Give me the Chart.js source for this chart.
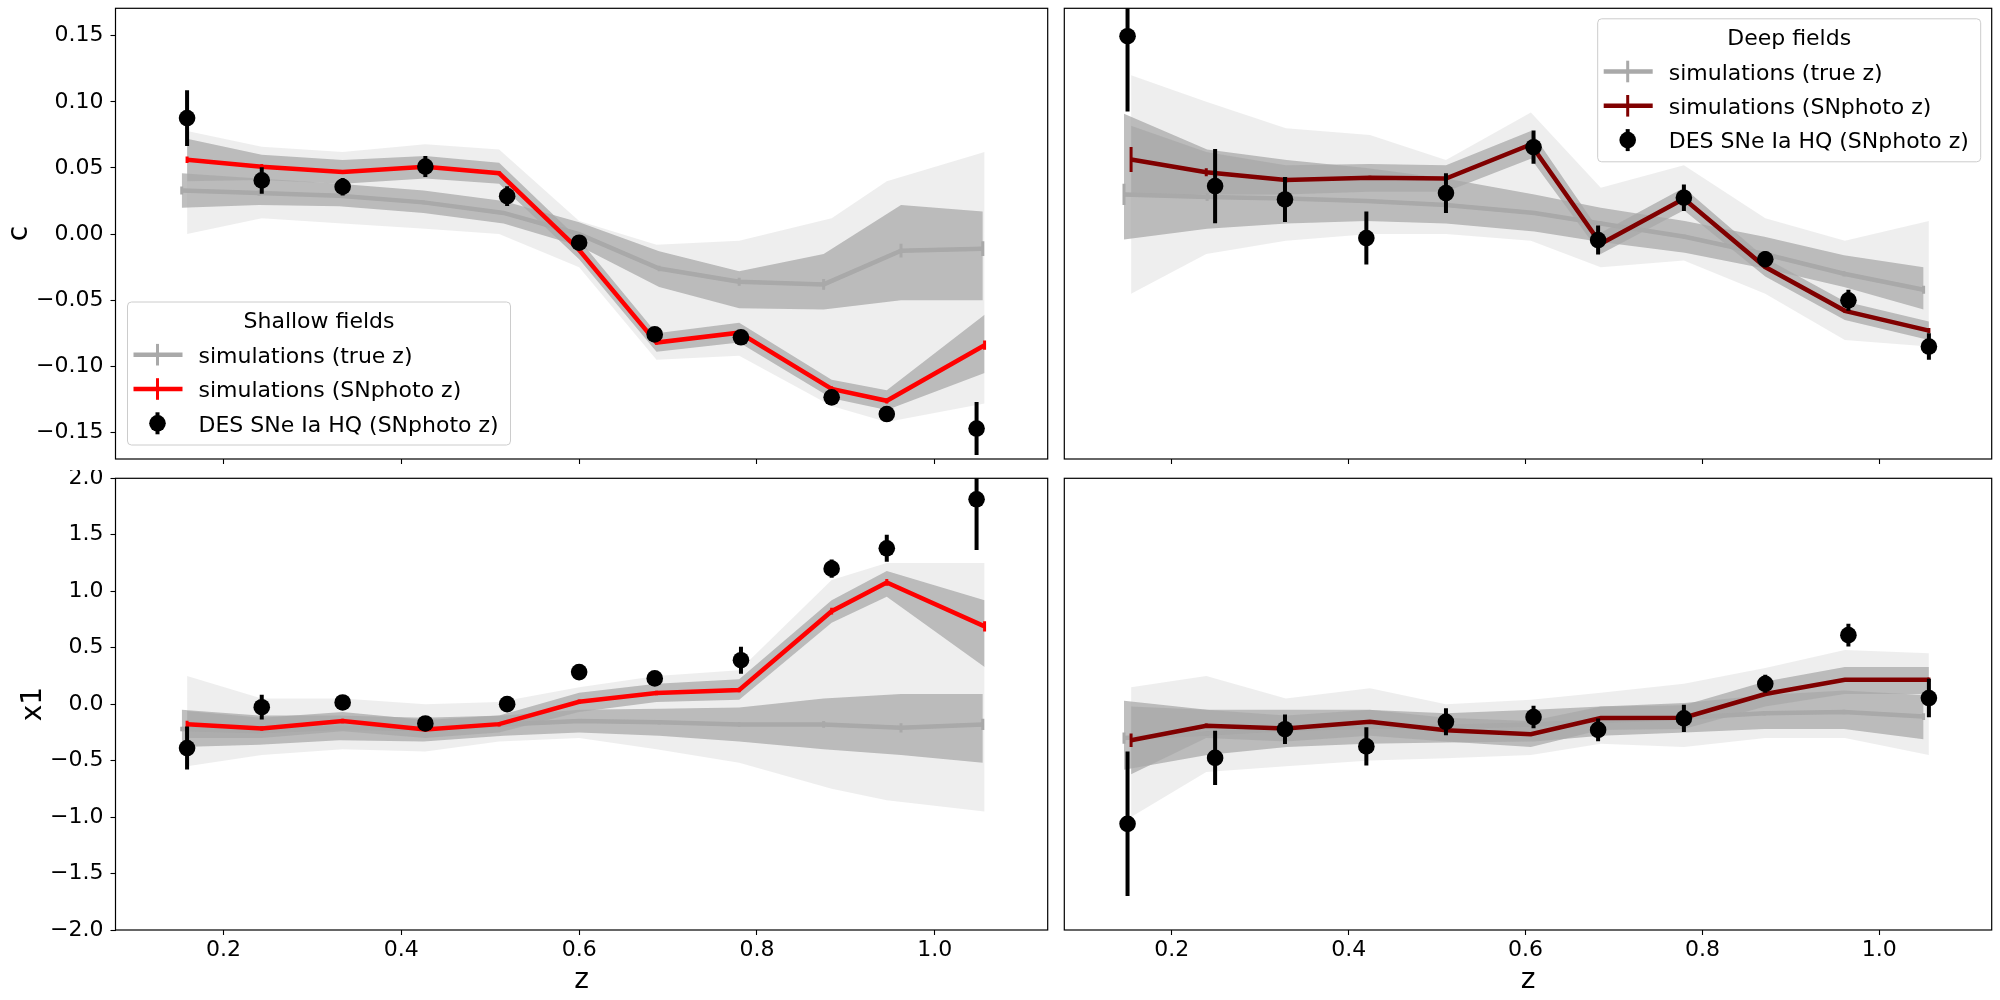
<!DOCTYPE html>
<html>
<head>
<meta charset="utf-8">
<script src="https://cdn.jsdelivr.net/npm/chart.js@4.4.1/dist/chart.umd.min.js"></script>
<style>
  html, body { margin: 0; padding: 0; background: #fff; }
  #fig { position: relative; width: 2000px; height: 1000px; }
  canvas { position: absolute; }
</style>
</head>
<body>
<div id="fig">
  <canvas id="shallow-c" width="1056" height="470" style="left:0px;top:0px"></canvas>
  <canvas id="deep-c" width="944" height="470" style="left:1056px;top:0px"></canvas>
  <canvas id="shallow-x1" width="1056" height="530" style="left:0px;top:470px"></canvas>
  <canvas id="deep-x1" width="944" height="530" style="left:1056px;top:470px"></canvas>
</div>
<script>
// axes
const zTicks = [0.2, 0.4, 0.6, 0.8, 1.0];
const zTickLabels = ['0.2', '0.4', '0.6', '0.8', '1.0'];
const cTicks = [-0.15, -0.10, -0.05, 0.00, 0.05, 0.10, 0.15];
const cTickLabels = ['\u22120.15', '\u22120.10', '\u22120.05', '0.00', '0.05', '0.10', '0.15'];
const x1Ticks = [-2.0, -1.5, -1.0, -0.5, 0.0, 0.5, 1.0, 1.5, 2.0];
const x1TickLabels = ['\u22122.0', '\u22121.5', '\u22121.0', '\u22120.5', '0.0', '0.5', '1.0', '1.5', '2.0'];
const zRange = [0.0785, 1.127];
const cRange = [-0.170, 0.1707];
const x1Range = [-2.0, 2.0];

const legendLabels = ['simulations (true z)', 'simulations (SNphoto z)', 'DES SNe Ia HQ (SNphoto z)'];
const fieldTitles = ['Shallow fields', 'Deep fields'];

// ---- shallow fields ----
const shallowZ      = [0.159, 0.243, 0.334, 0.427, 0.519, 0.600, 0.685, 0.782, 0.884, 0.946, 1.047];
const shallowPhotoZ = [0.159, 0.243, 0.334, 0.427, 0.510, 0.600, 0.687, 0.780, 0.884, 0.946, 1.056];
const shallowTrueZ  = [0.153, 0.240, 0.330, 0.425, 0.515, 0.600, 0.690, 0.780, 0.875, 0.962, 1.054];

const shallowC         = [0.0877, 0.0406, 0.0358, 0.0511, 0.0287, -0.0065, -0.0758, -0.0780, -0.1234, -0.1360, -0.1470];
const shallowCErr      = [0.021, 0.010, 0.0067, 0.008, 0.0075, 0.004, 0.003, 0.005, 0.003, 0.003, 0.020];
const shallowPhotoC    = [0.0562, 0.0510, 0.0470, 0.0510, 0.0460, -0.0120, -0.0820, -0.0745, -0.1170, -0.1260, -0.0840];
const shallowPhotoCErr = [0.0025, 0.002, 0.0015, 0.0015, 0.0015, 0.0015, 0.0015, 0.002, 0.002, 0.002, 0.0035];
const shallowPhotoCLo  = [0.040, 0.041, 0.038, 0.042, 0.038, -0.019, -0.089, -0.082, -0.124, -0.133, -0.105];
const shallowPhotoCHi  = [0.072, 0.060, 0.056, 0.059, 0.054, -0.004, -0.075, -0.067, -0.110, -0.118, -0.061];
const shallowTrueC     = [0.033, 0.031, 0.029, 0.024, 0.016, 0.000, -0.026, -0.036, -0.038, -0.0125, -0.011];
const shallowTrueCErr  = [0.003, 0.002, 0.0015, 0.0015, 0.0015, 0.0015, 0.002, 0.003, 0.004, 0.0052, 0.0056];
const shallowTrueCLo   = [0.020, 0.022, 0.021, 0.016, 0.008, -0.009, -0.040, -0.056, -0.057, -0.050, -0.050];
const shallowTrueCHi   = [0.046, 0.042, 0.038, 0.033, 0.025, 0.009, -0.013, -0.028, -0.015, 0.022, 0.017];
const shallowEnvCLo    = [0.000, 0.012, 0.008, 0.004, 0.000, -0.025, -0.095, -0.092, -0.130, -0.142, -0.128];
const shallowEnvCHi    = [0.078, 0.066, 0.062, 0.068, 0.064, 0.010, -0.008, -0.005, 0.012, 0.040, 0.062];

const shallowX1         = [-0.389, -0.027, 0.015, -0.171, 0.000, 0.284, 0.228, 0.389, 1.200, 1.380, 1.814];
const shallowX1Err      = [0.19, 0.11, 0.03, 0.04, 0.05, 0.03, 0.06, 0.12, 0.08, 0.12, 0.45];
const shallowPhotoX1    = [-0.177, -0.216, -0.150, -0.225, -0.177, 0.021, 0.099, 0.126, 0.823, 1.078, 0.689];
const shallowPhotoX1Err = [0.03, 0.02, 0.02, 0.02, 0.02, 0.02, 0.02, 0.02, 0.03, 0.03, 0.045];
const shallowPhotoX1Lo  = [-0.30, -0.30, -0.24, -0.30, -0.25, -0.07, 0.02, 0.04, 0.72, 0.95, 0.33];
const shallowPhotoX1Hi  = [-0.06, -0.12, -0.07, -0.14, -0.10, 0.10, 0.18, 0.22, 0.92, 1.18, 0.92];
const shallowTrueX1     = [-0.22, -0.24, -0.21, -0.22, -0.18, -0.15, -0.16, -0.18, -0.18, -0.21, -0.18];
const shallowTrueX1Err  = [0.02, 0.015, 0.015, 0.015, 0.015, 0.015, 0.02, 0.02, 0.03, 0.04, 0.05];
const shallowTrueX1Lo   = [-0.38, -0.36, -0.32, -0.33, -0.28, -0.25, -0.28, -0.33, -0.40, -0.45, -0.52];
const shallowTrueX1Hi   = [-0.05, -0.10, -0.10, -0.12, -0.10, -0.05, -0.04, -0.03, 0.05, 0.09, 0.09];
const shallowEnvX1Lo    = [-0.55, -0.45, -0.40, -0.42, -0.33, -0.30, -0.40, -0.52, -0.75, -0.85, -0.95];
const shallowEnvX1Hi    = [0.25, 0.05, 0.05, 0.00, 0.02, 0.15, 0.25, 0.30, 1.10, 1.25, 1.25];

// ---- deep fields ----
const deepZ      = [0.150, 0.249, 0.328, 0.420, 0.510, 0.609, 0.682, 0.779, 0.871, 0.965, 1.056];
const deepPhotoZ = [0.154, 0.239, 0.329, 0.424, 0.510, 0.606, 0.685, 0.779, 0.871, 0.961, 1.056];
const deepTrueZ  = [0.146, 0.240, 0.330, 0.420, 0.510, 0.610, 0.685, 0.780, 0.870, 0.960, 1.050];

const deepC         = [0.1496, 0.0363, 0.0262, -0.0030, 0.0310, 0.0657, -0.0045, 0.0275, -0.0190, -0.0500, -0.0850];
const deepCErr      = [0.057, 0.028, 0.017, 0.020, 0.015, 0.0126, 0.011, 0.010, 0.006, 0.008, 0.010];
const deepPhotoC    = [0.0564, 0.0468, 0.0410, 0.0426, 0.0420, 0.0678, -0.0073, 0.0267, -0.0249, -0.0580, -0.0730];
const deepPhotoCErr = [0.0094, 0.003, 0.002, 0.0015, 0.0015, 0.0015, 0.0015, 0.0015, 0.0015, 0.0015, 0.002];
const deepPhotoCLo  = [0.028, 0.030, 0.030, 0.032, 0.032, 0.057, -0.015, 0.018, -0.032, -0.065, -0.080];
const deepPhotoCHi  = [0.082, 0.062, 0.052, 0.053, 0.052, 0.078, 0.001, 0.035, -0.018, -0.051, -0.066];
const deepTrueC     = [0.030, 0.028, 0.027, 0.025, 0.022, 0.016, 0.008, -0.002, -0.015, -0.030, -0.042];
const deepTrueCErr  = [0.008, 0.003, 0.002, 0.0015, 0.0015, 0.0015, 0.0015, 0.0015, 0.002, 0.002, 0.003];
const deepTrueCLo   = [-0.004, 0.004, 0.008, 0.010, 0.008, 0.002, -0.006, -0.014, -0.026, -0.040, -0.057];
const deepTrueCHi   = [0.091, 0.064, 0.056, 0.050, 0.042, 0.030, 0.020, 0.010, -0.002, -0.016, -0.025];
const deepEnvCLo    = [-0.045, -0.015, -0.005, 0.000, 0.000, -0.005, -0.025, -0.020, -0.045, -0.080, -0.085];
const deepEnvCHi    = [0.120, 0.100, 0.080, 0.075, 0.056, 0.092, 0.035, 0.052, 0.012, -0.005, 0.010];

const deepX1         = [-1.06, -0.476, -0.222, -0.374, -0.156, -0.114, -0.228, -0.126, 0.180, 0.611, 0.054];
const deepX1Err      = [0.64, 0.24, 0.13, 0.17, 0.12, 0.10, 0.10, 0.12, 0.08, 0.10, 0.17];
const deepPhotoX1    = [-0.320, -0.192, -0.216, -0.156, -0.231, -0.266, -0.123, -0.120, 0.090, 0.216, 0.216];
const deepPhotoX1Err = [0.06, 0.02, 0.015, 0.015, 0.015, 0.015, 0.015, 0.015, 0.015, 0.015, 0.02];
const deepPhotoX1Lo  = [-0.62, -0.30, -0.33, -0.28, -0.33, -0.38, -0.23, -0.22, -0.02, 0.09, 0.09];
const deepPhotoX1Hi  = [-0.02, -0.05, -0.10, -0.05, -0.12, -0.15, -0.02, -0.01, 0.20, 0.33, 0.33];
const deepTrueX1     = [-0.30, -0.26, -0.22, -0.20, -0.20, -0.18, -0.15, -0.12, -0.08, -0.07, -0.11];
const deepTrueX1Err  = [0.05, 0.02, 0.015, 0.015, 0.015, 0.015, 0.015, 0.015, 0.02, 0.02, 0.03];
const deepTrueX1Lo   = [-0.58, -0.45, -0.38, -0.35, -0.34, -0.33, -0.28, -0.25, -0.22, -0.22, -0.31];
const deepTrueX1Hi   = [0.03, -0.05, -0.05, -0.05, -0.08, -0.05, -0.02, 0.01, 0.08, 0.12, 0.08];
const deepEnvX1Lo    = [-1.00, -0.60, -0.55, -0.50, -0.48, -0.45, -0.35, -0.38, -0.30, -0.30, -0.45];
const deepEnvX1Hi    = [0.15, 0.25, 0.05, 0.14, 0.00, 0.04, 0.10, 0.18, 0.32, 0.48, 0.45];

const simGrey = '#a9a9a9';
const bandFill = 'rgba(169,169,169,0.75)';
const envFill = 'rgba(205,205,205,0.35)';
const shallowRed = '#ff0000';
const deepRed = '#800000';

Chart.defaults.font.family = "'DejaVu Sans', sans-serif";
Chart.defaults.color = '#000';

const pts = (xs, ys) => xs.map((x, i) => ({ x: x, y: ys[i] }));

// vertical error bars, drawn under each dataset
const errorBarPlugin = {
  id: 'errorBars',
  beforeDatasetDraw(chart, args) {
    const ds = chart.data.datasets[args.index];
    if (!ds.errs) return;
    const ctx = chart.ctx, a = chart.chartArea, ys = chart.scales.y;
    ctx.save();
    ctx.beginPath();
    ctx.rect(a.left, a.top, a.right - a.left, a.bottom - a.top);
    ctx.clip();
    ctx.strokeStyle = ds.errColor;
    ctx.lineWidth = ds.errWidth;
    args.meta.data.forEach((el, i) => {
      const v = ds.data[i].y, e = ds.errs[i];
      ctx.beginPath();
      ctx.moveTo(el.x, ys.getPixelForValue(v - e));
      ctx.lineTo(el.x, ys.getPixelForValue(v + e));
      ctx.stroke();
    });
    ctx.restore();
  }
};

// axes frame + legend box
const frameLegendPlugin = {
  id: 'fieldLegend',
  afterDraw(chart, args, opts) {
    const ctx = chart.ctx, a = chart.chartArea;
    ctx.save();
    ctx.strokeStyle = '#000';
    ctx.lineWidth = 1.2;
    ctx.strokeRect(a.left, a.top, a.right - a.left, a.bottom - a.top);
    ctx.restore();
    if (!opts.title) return;

    const w = 383, h = 143;
    const x0 = opts.corner === 'bl' ? a.left + 12 : a.right - 11 - w;
    const y0 = opts.corner === 'bl' ? a.bottom - 14 - h : a.top + 10.5;
    ctx.save();
    ctx.beginPath();
    ctx.roundRect(x0, y0, w, h, 4);
    ctx.fillStyle = 'rgba(255,255,255,0.8)';
    ctx.fill();
    ctx.strokeStyle = '#cccccc';
    ctx.lineWidth = 1;
    ctx.stroke();

    ctx.font = "22px 'DejaVu Sans'";
    ctx.fillStyle = '#000';
    ctx.textBaseline = 'alphabetic';
    ctx.textAlign = 'center';
    ctx.fillText(opts.title, x0 + w / 2, y0 + 26);

    const colors = [simGrey, opts.photoColor];
    ctx.textAlign = 'left';
    legendLabels.forEach((label, i) => {
      const base = y0 + 61 + i * 34.3;
      const my = base - 8.3;
      if (i < 2) {
        ctx.strokeStyle = colors[i];
        ctx.lineWidth = 4.5;
        ctx.beginPath(); ctx.moveTo(x0 + 6, my); ctx.lineTo(x0 + 55, my); ctx.stroke();
        ctx.lineWidth = 3;
        ctx.beginPath(); ctx.moveTo(x0 + 30, my - 10.8); ctx.lineTo(x0 + 30, my + 10.8); ctx.stroke();
      } else {
        ctx.strokeStyle = '#000';
        ctx.lineWidth = 4;
        ctx.beginPath(); ctx.moveTo(x0 + 30, my - 11); ctx.lineTo(x0 + 30, my + 11); ctx.stroke();
        ctx.fillStyle = '#000';
        ctx.beginPath(); ctx.arc(x0 + 30, my, 8.3, 0, Math.PI * 2); ctx.fill();
      }
      ctx.fillStyle = '#000';
      ctx.fillText(label, x0 + 71, base);
    });
    ctx.restore();
  }
};

function fieldDatasets(f) {
  const band = (zs, ys, fill, color) => ({
    data: pts(zs, ys), borderColor: 'rgba(0,0,0,0)', borderWidth: 1,
    pointRadius: 0, fill: fill, backgroundColor: color
  });
  return [
    { label: legendLabels[2], data: pts(f.dataZ, f.data), showLine: false,
      pointRadius: 8.3, pointBackgroundColor: '#000', pointBorderWidth: 0,
      errs: f.dataErr, errColor: '#000', errWidth: 4 },
    { label: legendLabels[1], data: pts(f.photoZ, f.photo), borderColor: f.photoColor,
      borderWidth: 4.5, pointRadius: 0, errs: f.photoErr, errColor: f.photoColor, errWidth: 3 },
    { label: legendLabels[0], data: pts(f.trueZ, f.tru), borderColor: simGrey,
      borderWidth: 4.5, pointRadius: 0, errs: f.trueErr, errColor: simGrey, errWidth: 3 },
    band(f.photoZ, f.photoHi, '+1', bandFill),
    band(f.photoZ, f.photoLo, false, bandFill),
    band(f.trueZ, f.trueHi, '+1', bandFill),
    band(f.trueZ, f.trueLo, false, bandFill),
    band(f.photoZ, f.envHi, '+1', envFill),
    band(f.photoZ, f.envLo, false, envFill)
  ];
}

function axis(o) {
  return {
    type: 'linear',
    min: o.range[0],
    max: o.range[1],
    afterBuildTicks: s => { s.ticks = o.ticks.map(v => ({ value: v })); },
    afterFit: s => {
      if (o.horizontal) s.height = o.size; else s.width = o.size;
      // labels may overhang the plot box, as in matplotlib
      s.paddingTop = 0; s.paddingBottom = 0; s.paddingLeft = 0; s.paddingRight = 0;
    },
    border: { display: false },
    grid: { display: o.marks, drawOnChartArea: false, drawTicks: true, tickLength: 5,
            tickColor: '#000', tickWidth: 1.1 },
    ticks: { display: o.labels, autoSkip: false, maxRotation: 0, minRotation: 0, color: '#000',
             padding: o.horizontal ? 2 : 7, font: { size: 22 },
             callback: (v, i) => o.tickLabels[i] },
    title: o.title
      ? { display: true, text: o.title, color: '#000', font: { size: 28 }, padding: o.titlePad }
      : { display: false }
  };
}

function makePanel(id, p) {
  new Chart(document.getElementById(id), {
    type: 'line',
    data: { datasets: fieldDatasets(p.field) },
    options: {
      responsive: false,
      animation: false,
      devicePixelRatio: 1,
      events: [],
      layout: { padding: p.pad },
      plugins: {
        legend: { display: false },
        tooltip: { enabled: false },
        fieldLegend: p.legend || {}
      },
      scales: {
        x: axis({ horizontal: true, range: zRange, ticks: zTicks, tickLabels: zTickLabels,
                  size: p.xh, marks: true, labels: p.xlabels,
                  title: p.xlabels ? 'z' : null, titlePad: { top: 0, bottom: 2 } }),
        y: axis({ horizontal: false, range: p.yRange, ticks: p.yTicks, tickLabels: p.yTickLabels,
                  size: p.yw, marks: p.ylabels, labels: p.ylabels,
                  title: p.ytitle, titlePad: p.ytitlePad })
      }
    },
    plugins: [errorBarPlugin, frameLegendPlugin]
  });
}

makePanel('shallow-c', {
  field: { dataZ: shallowZ, data: shallowC, dataErr: shallowCErr,
           photoZ: shallowPhotoZ, photo: shallowPhotoC, photoErr: shallowPhotoCErr,
           photoLo: shallowPhotoCLo, photoHi: shallowPhotoCHi, photoColor: shallowRed,
           trueZ: shallowTrueZ, tru: shallowTrueC, trueErr: shallowTrueCErr,
           trueLo: shallowTrueCLo, trueHi: shallowTrueCHi, envLo: shallowEnvCLo, envHi: shallowEnvCHi },
  pad: { top: 4, right: 6, left: 0, bottom: 0 }, xh: 11, xlabels: false,
  yw: 115.5, ylabels: true, yRange: cRange, yTicks: cTicks, yTickLabels: cTickLabels,
  ytitle: 'c', ytitlePad: { top: 3, bottom: 0 },
  legend: { title: fieldTitles[0], corner: 'bl', photoColor: shallowRed }
});

makePanel('deep-c', {
  field: { dataZ: deepZ, data: deepC, dataErr: deepCErr,
           photoZ: deepPhotoZ, photo: deepPhotoC, photoErr: deepPhotoCErr,
           photoLo: deepPhotoCLo, photoHi: deepPhotoCHi, photoColor: deepRed,
           trueZ: deepTrueZ, tru: deepTrueC, trueErr: deepTrueCErr,
           trueLo: deepTrueCLo, trueHi: deepTrueCHi, envLo: deepEnvCLo, envHi: deepEnvCHi },
  pad: { top: 4, right: 4, left: 0, bottom: 0 }, xh: 11, xlabels: false,
  yw: 6.5, ylabels: false, yRange: cRange, yTicks: cTicks, yTickLabels: cTickLabels,
  ytitle: null,
  legend: { title: fieldTitles[1], corner: 'tr', photoColor: deepRed }
});

makePanel('shallow-x1', {
  field: { dataZ: shallowZ, data: shallowX1, dataErr: shallowX1Err,
           photoZ: shallowPhotoZ, photo: shallowPhotoX1, photoErr: shallowPhotoX1Err,
           photoLo: shallowPhotoX1Lo, photoHi: shallowPhotoX1Hi, photoColor: shallowRed,
           trueZ: shallowTrueZ, tru: shallowTrueX1, trueErr: shallowTrueX1Err,
           trueLo: shallowTrueX1Lo, trueHi: shallowTrueX1Hi, envLo: shallowEnvX1Lo, envHi: shallowEnvX1Hi },
  pad: { top: 8, right: 6, left: 0, bottom: 0 }, xh: 70, xlabels: true,
  yw: 115.5, ylabels: true, yRange: x1Range, yTicks: x1Ticks, yTickLabels: x1TickLabels,
  ytitle: 'x1', ytitlePad: { top: 17, bottom: 0 }
});

makePanel('deep-x1', {
  field: { dataZ: deepZ, data: deepX1, dataErr: deepX1Err,
           photoZ: deepPhotoZ, photo: deepPhotoX1, photoErr: deepPhotoX1Err,
           photoLo: deepPhotoX1Lo, photoHi: deepPhotoX1Hi, photoColor: deepRed,
           trueZ: deepTrueZ, tru: deepTrueX1, trueErr: deepTrueX1Err,
           trueLo: deepTrueX1Lo, trueHi: deepTrueX1Hi, envLo: deepEnvX1Lo, envHi: deepEnvX1Hi },
  pad: { top: 8, right: 4, left: 0, bottom: 0 }, xh: 70, xlabels: true,
  yw: 6.5, ylabels: false, yRange: x1Range, yTicks: x1Ticks, yTickLabels: x1TickLabels,
  ytitle: null
});
</script>
</body>
</html>
